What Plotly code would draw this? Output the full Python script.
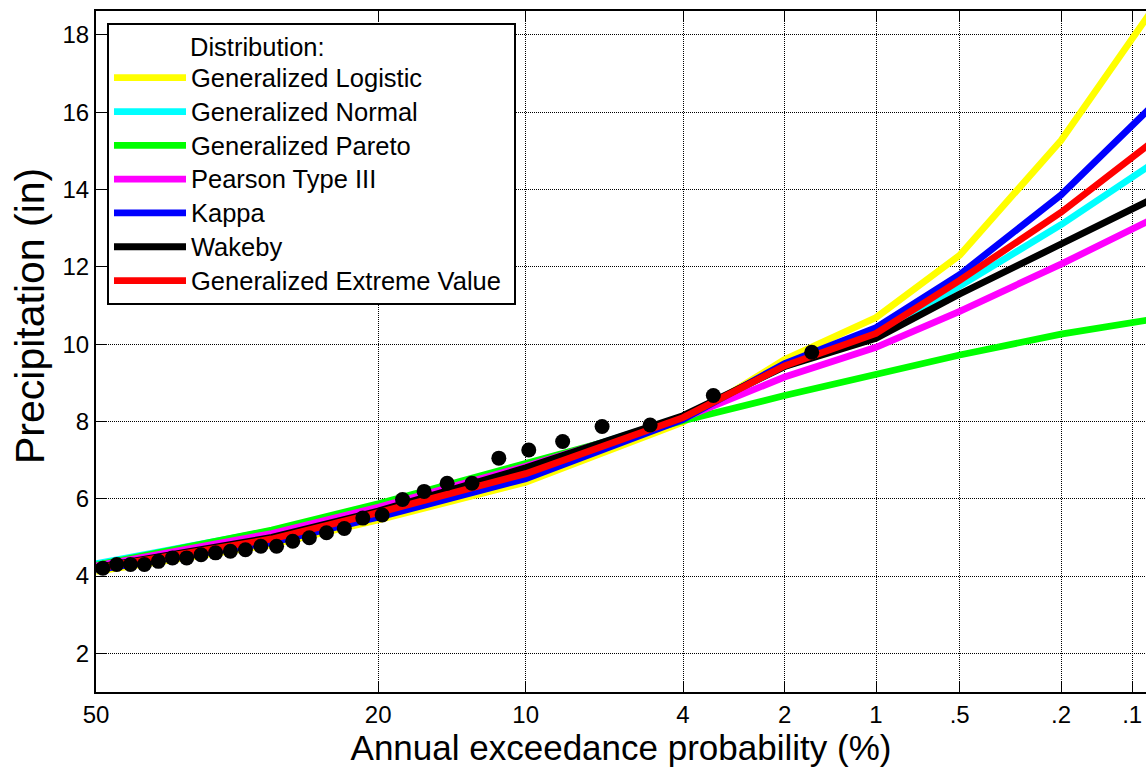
import plotly.graph_objects as go
from statistics import NormalDist

# ---------------- data ----------------
# annual exceedance probability (%) at which the fitted curves are sampled
curve_aep = [50, 30, 20, 10, 4, 2, 1, 0.5, 0.2, 0.1, 0.08]

glo = [4.12, 4.81, 5.45, 6.43, 7.98, 9.60, 10.69, 12.30, 15.27, 17.90, 18.72]
gno = [4.32, 5.17, 5.84, 6.82, 8.12, 9.42, 10.25, 11.50, 13.09, 14.32, 14.70]
gpa = [4.28, 5.19, 5.87, 6.92, 8.02, 8.67, 9.23, 9.72, 10.26, 10.56, 10.65]
pe3 = [4.26, 5.10, 5.78, 6.84, 8.08, 9.15, 9.92, 10.85, 12.07, 12.98, 13.26]
kap = [4.16, 4.87, 5.52, 6.52, 8.05, 9.50, 10.43, 11.80, 13.86, 15.65, 16.21]
wak = [4.22, 5.00, 5.68, 6.80, 8.15, 9.42, 10.15, 11.30, 12.59, 13.50, 13.78]
gev = [4.20, 4.96, 5.64, 6.65, 8.10, 9.44, 10.28, 11.65, 13.41, 14.83, 15.27]

series_names = ["Generalized Logistic", "Generalized Normal", "Generalized Pareto",
                "Pearson Type III", "Kappa", "Wakeby", "Generalized Extreme Value"]
series_values = [glo, gno, gpa, pe3, kap, wak, gev]
series_colors = ["#FFFF00", "#00FFFF", "#00FF00", "#FF00FF", "#0000FF", "#000000", "#FF0000"]

# observed annual maxima, plotting position (%) and precipitation (in)
obs_aep = [1.64, 3.28, 4.92, 6.56, 8.20, 9.84, 11.48, 13.11, 14.75, 16.39,
           18.03, 19.67, 21.31, 22.95, 24.59, 26.23, 27.87, 29.51, 31.15, 32.79,
           34.43, 36.07, 37.70, 39.34, 40.98, 42.62, 44.26, 45.90, 47.54, 49.18]
obs_precip = [9.79, 8.67, 7.91, 7.87, 7.48, 7.26, 7.05, 6.40, 6.40, 6.19,
              5.98, 5.58, 5.50, 5.23, 5.12, 4.99, 4.90, 4.77, 4.77, 4.68,
              4.64, 4.60, 4.55, 4.47, 4.47, 4.38, 4.30, 4.30, 4.30, 4.20]

tick_aep = [50, 20, 10, 4, 2, 1, 0.5, 0.2, 0.1]
tick_labels = ["50", "20", "10", "4", "2", "1", ".5", ".2", ".1"]
y_ticks = [2, 4, 6, 8, 10, 12, 14, 16, 18]

# ---------------- normal probability scale ----------------
_nd = NormalDist()


def prob_scale(p_percent):
    return _nd.inv_cdf(1.0 - p_percent / 100.0)


FONT = "Liberation Sans, Arial, Helvetica, sans-serif"
LEG_TXT = 25.5   # visible legend text size
LEG_ROW = 23.7   # size that drives the legend row spacing

fig = go.Figure()
for i, (name, vals, col) in enumerate(zip(series_names, series_values, series_colors)):
    label = name + ("\u00a0" if i == len(series_names) - 1 else "")
    fig.add_trace(go.Scatter(
        x=[prob_scale(p) for p in curve_aep], y=vals, mode="lines",
        name=f'<span style="font-size:{LEG_TXT}px">{label}</span>',
        line=dict(color=col, width=6.8),
    ))

fig.add_trace(go.Scatter(
    x=[prob_scale(p) for p in obs_aep], y=obs_precip, mode="markers",
    marker=dict(color="black", size=15, line=dict(width=0)),
    showlegend=False, name="Observed",
))

W, H = 1146, 768
ml, mr, mt, mb = 96, 0, 11, 76
px_per_z = 335.3
x_max = (W - ml - mr) / px_per_z
plot_w = W - ml - mr
plot_h = H - mb - mt

fig.update_layout(
    width=W, height=H,
    margin=dict(l=ml, r=mr, t=mt, b=mb, pad=0),
    paper_bgcolor="white", plot_bgcolor="white",
    font=dict(family=FONT, color="black", size=24),
    showlegend=True,
    legend=dict(
        x=(107 - ml) / plot_w, y=(H - mb - 23) / plot_h,
        xanchor="left", yanchor="top",
        bgcolor="white", bordercolor="black", borderwidth=2,
        font=dict(family=FONT, size=LEG_ROW, color="black"),
        title=dict(text="\u00a0" * 12 + f'<span style="font-size:{LEG_TXT}px">Distribution:</span>',
                   font=dict(family=FONT, size=LEG_ROW)),
        itemwidth=72, tracegroupgap=0,
    ),
    xaxis=dict(
        range=[0, x_max], tickmode="array",
        tickvals=[prob_scale(p) for p in tick_aep], ticktext=tick_labels,
        showline=True, linecolor="black", linewidth=2, mirror="ticks",
        ticks="inside", ticklen=10, tickwidth=1, tickcolor="black",
        showgrid=True, gridcolor="black", gridwidth=1, griddash="1px,1px",
        zeroline=False, automargin=False,
        tickfont=dict(size=24),
        title=dict(text="Annual exceedance probability (%)", font=dict(size=35), standoff=6),
    ),
    yaxis=dict(
        range=[1, 18.62], tickmode="array", tickvals=y_ticks,
        ticktext=[str(v) for v in y_ticks],
        showline=True, linecolor="black", linewidth=2, mirror=False,
        ticks="inside", ticklen=10, tickwidth=1, tickcolor="black",
        showgrid=True, gridcolor="black", gridwidth=1, griddash="1px,1px",
        zeroline=False, automargin=False,
        tickfont=dict(size=24),
    ),
    annotations=[dict(
        text="Precipitation (in)", textangle=-90,
        xref="paper", yref="paper",
        x=(30 - ml) / plot_w, y=(H - mb - 316) / plot_h,
        xanchor="center", yanchor="middle", showarrow=False,
        font=dict(family=FONT, size=41, color="black"),
    )],
)

fig.write_html("out.html")
